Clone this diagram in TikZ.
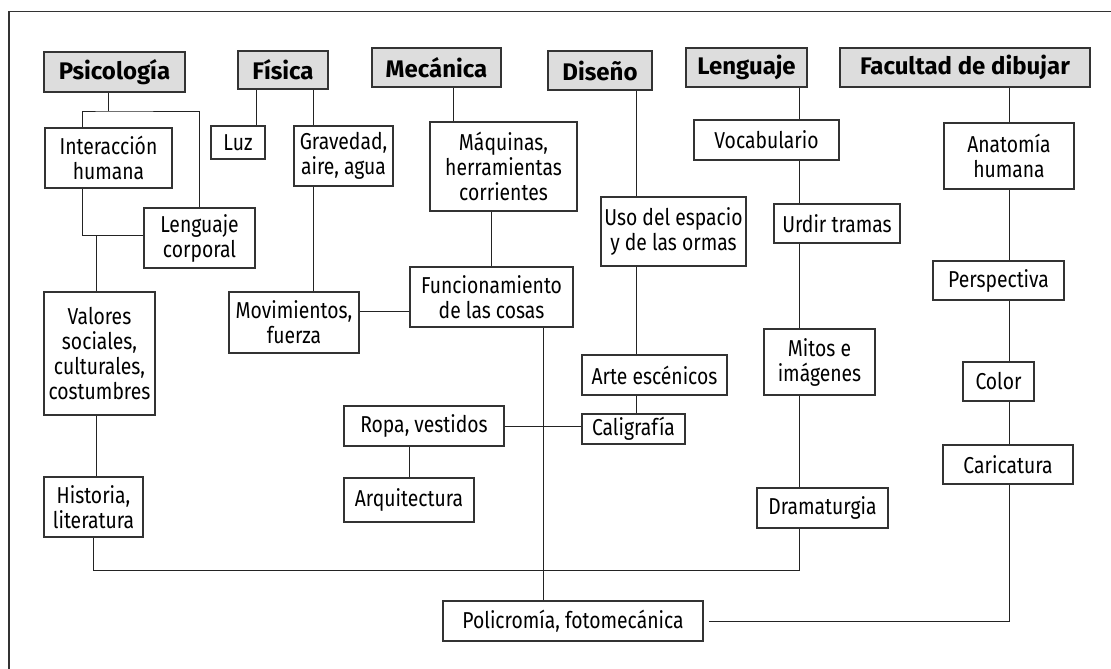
\documentclass[tikz,border=0pt]{standalone}
\usepackage{fontspec}
\setmainfont{Fira Sans}[FakeStretch=0.84]
\newfontfamily\headfont{Fira Sans}
\usepackage{tikz}
\usetikzlibrary{positioning,calc}
\definecolor{headgray}{RGB}{221,221,221}
\definecolor{boxline}{RGB}{51,51,51}
\definecolor{linkgray}{RGB}{35,35,35}

\begin{document}
\begin{tikzpicture}[
        x=1pt, y=-1pt,
        font=\fontsize{23}{25}\selectfont,
        head/.style={rectangle, draw=boxline, fill=headgray, line width=1.2pt, inner sep=2pt, minimum height=39pt, font=\headfont\bfseries\fontsize{24}{28}\selectfont},
        item/.style={rectangle, draw=boxline, line width=1.1pt, inner sep=2pt, align=center, minimum height=#1},
        item/.default=40pt,
        link/.style={draw=linkgray, line width=1pt}
    ]
    \useasboundingbox (0,0) rectangle (1111,669);
    \draw[boxline, line width=1.2pt] (9,669) -- (9,11.5) -- (1111,11.5);

    % subject headers
    \node[head, minimum width=141pt, minimum height=40pt] (psi) at (114.5,72) {Psicología};
    \node[head, minimum width=90pt, minimum height=38pt] (fis) at (283,70) {Física};
    \node[head, minimum width=129pt] (mec) at (436.5,67.5) {Mecánica};
    \node[head, minimum width=104pt] (dis) at (600,70.5) {Diseño};
    \node[head, minimum width=121pt] (len) at (746.5,67.5) {Lenguaje};
    \node[head, minimum width=250pt] (fac) at (965,67.5) {Facultad de dibujar};

    % topics
    \node[item=60pt, minimum width=127pt] (inter) at (108.5,158) {Interacción\\humana};
    \node[item=60pt, minimum width=111pt] (lcorp) at (199.5,238) {Lenguaje\\corporal};
    \node[item=123pt, minimum width=111pt] (val) at (99.5,353.5) {Valores\\sociales,\\culturales,\\costumbres};
    \node[item=60pt, minimum width=99pt] (hist) at (93.5,507) {Historia,\\literatura};
    \node[item=33pt, minimum width=54pt] (luz) at (238,142.5) {Luz};
    \node[item=60pt, minimum width=99pt] (grav) at (343.5,156) {Gravedad,\\aire, agua};
    \node[item=61pt, minimum width=130pt] (mov) at (294,322.5) {Movimientos,\\fuerza};
    \node[item=89pt, minimum width=147pt] (maq) at (503.5,166.5) {Máquinas,\\herramientas\\corrientes};
    \node[item=60pt, minimum width=163pt] (func) at (491.5,297) {Funcionamiento\\de las cosas};
    \node[item=40pt, minimum width=160pt] (ropa) at (424,426) {Ropa, vestidos};
    \node[item=44pt, minimum width=130pt] (arq) at (409,500) {Arquitectura};
    \node[item=69pt, minimum width=145pt] (uso) at (673.5,231.5) {Uso del espacio\\y de las ormas};
    \node[item=40pt, minimum width=145pt] (arte) at (654.5,375) {Arte escénicos};
    \node[item=30pt, minimum width=103pt] (cali) at (633.5,429) {Caligrafía};
    \node[item=40pt, minimum width=145pt] (voc) at (766.5,140) {Vocabulario};
    \node[item=39pt, minimum width=126pt] (urdir) at (837,223.5) {Urdir tramas};
    \node[item=66pt, minimum width=111pt] (mitos) at (819.5,362) {Mitos e\\imágenes};
    \node[item=40pt, minimum width=131pt] (drama) at (822.5,508) {Dramaturgia};
    \node[item=66pt, minimum width=130pt] (anat) at (1009,156) {Anatomía\\humana};
    \node[item=39pt, minimum width=131pt] (persp) at (998.5,280.5) {Perspectiva};
    \node[item=39pt, minimum width=71pt] (color) at (998.5,381.5) {Color};
    \node[item=39pt, minimum width=130pt] (caric) at (1008,464.5) {Caricatura};
    \node[item=40pt, minimum width=260pt] (poli) at (573,621) {Policromía, fotomecánica};

    % Psicología
    \coordinate (psij) at (108,111);
    \coordinate (intj) at (82,235);
    \coordinate (valj) at (96,235);
    \draw[link] (psi.south -| psij) -- (psij);
    \draw[link] (inter.north -| intj) |- (psij) -| (lcorp.north);
    \draw[link] (inter.south -| intj) -- (intj) -- (intj -| lcorp.west);
    \draw[link] (valj) -- (val.north -| valj);
    \draw[link] (val.south -| valj) -- (hist.north -| valj);

    % Historia / Lenguaje
    \coordinate (lcol) at (799,570);
    \draw[link] (hist.south) |- (lcol) -- (drama.south -| lcol);
    \draw[link] (len.south -| lcol) -- (voc.north -| lcol);
    \draw[link] (voc.south -| lcol) -- (urdir.north -| lcol);
    \draw[link] (urdir.south -| lcol) -- (mitos.north -| lcol);
    \draw[link] (mitos.south -| lcol) -- (drama.north -| lcol);

    % Física
    \coordinate (luzj) at (256,0);
    \coordinate (gravj) at (313,311);
    \draw[link] (fis.south -| luzj) -- (luz.north -| luzj);
    \draw[link] (fis.south -| gravj) -- (grav.north -| gravj);
    \draw[link] (grav.south -| gravj) -- (mov.north -| gravj);
    \draw[link] (mov.east |- gravj) -- (func.west |- gravj);

    % Mecánica
    \coordinate (mecj) at (453,0);
    \coordinate (funj) at (543,0);
    \draw[link] (mec.south -| mecj) -- (maq.north -| mecj);
    \draw[link] (maq.south -| func.north) -- (func.north);
    \draw[link] (func.south -| funj) -- (poli.north -| funj);
    \draw[link] (ropa.east) -- (cali.west |- ropa.east);
    \draw[link] (ropa.south -| arq.north) -- (arq.north);

    % Diseño
    \coordinate (disj) at (636,0);
    \draw[link] (dis.south -| disj) -- (uso.north -| disj);
    \draw[link] (uso.south -| disj) -- (arte.north -| disj);
    \draw[link] (arte.south -| disj) -- (cali.north -| disj);

    % Facultad de dibujar
    \coordinate (facj) at (1009,0);
    \draw[link] (fac.south -| facj) -- (anat.north -| facj);
    \draw[link] (anat.south -| facj) -- (persp.north -| facj);
    \draw[link] (persp.south -| facj) -- (color.north -| facj);
    \draw[link] (color.south -| facj) -- (caric.north -| facj);
    \draw[link, shorten >=5pt] (caric.south -| facj) |- (poli.east);
\end{tikzpicture}
\end{document}
